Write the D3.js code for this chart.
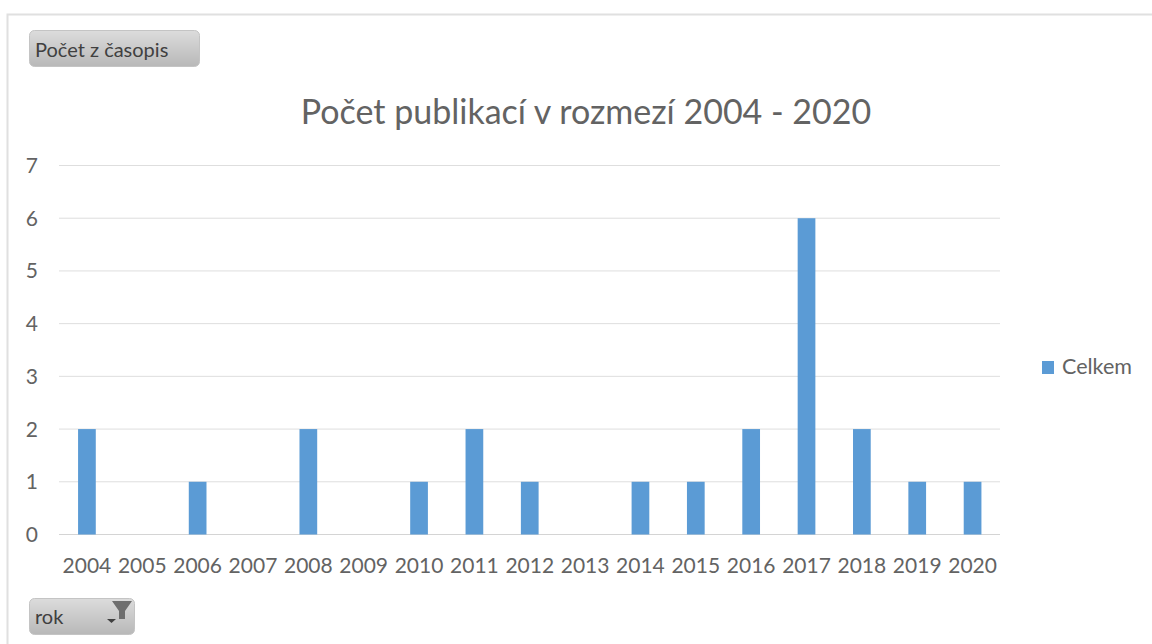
<!DOCTYPE html>
<html><head><meta charset="utf-8">
<style>html,body{margin:0;padding:0;background:#fff;overflow:hidden}svg{display:block}text{font-family:Lato,"Open Sans",sans-serif}</style>
<script src="https://cdn.jsdelivr.net/npm/d3@7/dist/d3.min.js"></script></head><body>
<script>
const years=["2004","2005","2006","2007","2008","2009","2010","2011","2012","2013","2014","2015","2016","2017","2018","2019","2020"];
const counts=[2,0,1,0,2,0,1,2,1,0,1,1,2,6,2,1,1];
const yTicks=[0,1,2,3,4,5,6,7];
const seriesName="Celkem";
const titleText="Počet publikací v rozmezí 2004 - 2020";
const fieldValue="Počet z časopis";
const fieldAxis="rok";

const svg=d3.select("body").append("svg").attr("width",1152).attr("height",644);
const defs=svg.append("defs");
const g=defs.append("linearGradient").attr("id","btn").attr("x1",0).attr("y1",0).attr("x2",0).attr("y2",1);
g.append("stop").attr("offset","0").attr("stop-color","#dcdcdc");
g.append("stop").attr("offset","1").attr("stop-color","#b8b8b8");

// chart frame
svg.append("path").attr("d","M7.5,644V14.5H1152").attr("fill","none").attr("stroke","#e0e0e0").attr("stroke-width",2);

const x=d3.scaleBand().domain(years).range([59.25,1000.25]).paddingInner(0.68).paddingOuter(0.34);
const y=d3.scaleLinear().domain([0,7]).range([534.5,165.5]);

svg.append("g").selectAll("line").data(yTicks).join("line")
 .attr("x1",59).attr("x2",1000).attr("y1",d=>y(d)).attr("y2",d=>y(d))
 .attr("stroke",d=>d===0?"#d4d4d4":"#dedede").attr("stroke-width",1);

svg.append("g").selectAll("rect").data(years.map((k,i)=>({k,v:counts[i]})).filter(d=>d.v>0)).join("rect")
 .attr("x",d=>x(d.k)).attr("width",x.bandwidth()).attr("y",d=>y(d.v)).attr("height",d=>y(0)-y(d.v)).attr("fill","#5b9bd5");

svg.append("g").selectAll("text").data(yTicks).join("text")
 .attr("x",38).attr("y",d=>y(d)+7.5).attr("text-anchor","end").attr("font-size",21).attr("fill","#636363").text(d=>d);

svg.append("g").selectAll("text").data(years).join("text")
 .attr("x",d=>x(d)+x.bandwidth()/2).attr("y",572.5).attr("text-anchor","middle").attr("font-size",21).attr("fill","#636363").text(d=>d);

svg.append("text").attr("x",586).attr("y",124).attr("text-anchor","middle").attr("font-size",34).attr("fill","#636363").text(titleText);

svg.append("rect").attr("x",1042).attr("y",361).attr("width",12).attr("height",13).attr("fill","#5b9bd5");
svg.append("text").attr("x",1062).attr("y",374).attr("font-size",21.5).attr("fill","#636363").text(seriesName);

// field buttons
svg.append("rect").attr("x",29.5).attr("y",30.5).attr("width",170).attr("height",36).attr("rx",5).attr("fill","url(#btn)").attr("stroke","#c4c4c4");
svg.append("text").attr("x",35).attr("y",57).attr("font-size",20).attr("fill","#404040").text(fieldValue);
svg.append("rect").attr("x",29.5).attr("y",598.5).attr("width",105).attr("height",36).attr("rx",5).attr("fill","url(#btn)").attr("stroke","#c4c4c4");
svg.append("text").attr("x",35).attr("y",624).attr("font-size",20).attr("fill","#404040").text(fieldAxis);
// filter + dropdown glyphs
svg.append("path").attr("d","M112,601H132L125,611V619H119V611Z").attr("fill","#6e6e6e");
svg.append("path").attr("d","M107,619H116L111.5,623Z").attr("fill","#404040");
</script></body></html>
